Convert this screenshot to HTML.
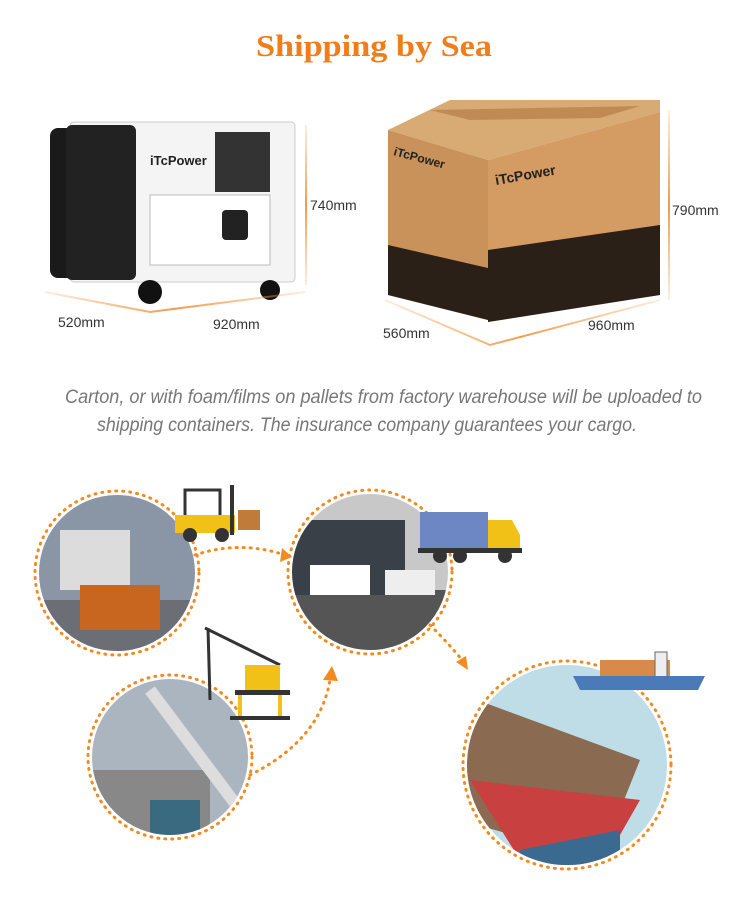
<!DOCTYPE html>
<html><head><meta charset="utf-8"><style>
body{margin:0;background:#fff;width:750px;height:916px;overflow:hidden;font-family:"Liberation Sans",sans-serif}
</style></head><body>
<svg width="750" height="916" viewBox="0 0 750 916" xmlns="http://www.w3.org/2000/svg">
<defs>
<linearGradient id="og" x1="0" x2="1"><stop offset="0" stop-color="#f7a35a" stop-opacity="0.2"/><stop offset="0.5" stop-color="#f39a4a"/><stop offset="1" stop-color="#f7a35a" stop-opacity="0.2"/></linearGradient>
<linearGradient id="ogv" x1="0" x2="0" y1="0" y2="1"><stop offset="0" stop-color="#f7a35a" stop-opacity="0.2"/><stop offset="0.5" stop-color="#f39a4a"/><stop offset="1" stop-color="#f7a35a" stop-opacity="0.2"/></linearGradient>
<clipPath id="c1"><circle cx="117" cy="573" r="78"/></clipPath>
<clipPath id="c2"><circle cx="370" cy="572" r="78"/></clipPath>
<clipPath id="c3"><circle cx="170" cy="757" r="78"/></clipPath>
<clipPath id="c4"><circle cx="567" cy="765" r="100"/></clipPath>
</defs>
<text x="256" y="56" textLength="236" lengthAdjust="spacingAndGlyphs" font-family="Liberation Serif,serif" font-weight="bold" font-size="31" fill="#f07c1a">Shipping by Sea</text>

<!-- generator -->
<rect x="50" y="128" width="50" height="150" rx="8" fill="#1a1a1a"/>
<rect x="70" y="122" width="225" height="160" rx="4" fill="#f4f4f4" stroke="#ccc"/>
<rect x="66" y="125" width="70" height="155" rx="6" fill="#222"/>
<rect x="215" y="132" width="55" height="60" fill="#333"/>
<rect x="150" y="195" width="120" height="70" fill="#fff" stroke="#bbb"/>
<rect x="222" y="210" width="26" height="30" rx="4" fill="#222"/>
<text x="150" y="165" font-size="13" font-weight="bold" fill="#222">iTcPower</text>
<circle cx="150" cy="292" r="12" fill="#111"/><circle cx="270" cy="290" r="10" fill="#111"/>
<rect x="305" y="125" width="2" height="160" fill="url(#ogv)"/>
<path d="M45 292 L150 312 L305 292" stroke="url(#og)" stroke-width="2" fill="none"/>
<text x="310" y="210" font-size="14" fill="#333">740mm</text>
<text x="58" y="327" font-size="14" fill="#333">520mm</text>
<text x="213" y="329" font-size="14" fill="#333">920mm</text>

<!-- carton -->
<polygon points="388,130 450,100 660,100 660,112 488,160" fill="#d8aa74"/>
<polygon points="388,130 488,160 488,320 388,295" fill="#c8925a"/>
<polygon points="488,160 660,112 660,295 488,322" fill="#d49c62"/>
<polygon points="430,110 640,106 600,118 470,120" fill="#c08a55"/>
<polygon points="488,250 660,225 660,295 488,322" fill="#2a2018"/>
<polygon points="388,245 488,268 488,320 388,295" fill="#2a2018"/>
<text x="496" y="185" font-size="14" font-weight="bold" fill="#222" transform="rotate(-10 496 185)">iTcPower</text>
<text x="393" y="155" font-size="12" font-weight="bold" fill="#222" transform="rotate(15 393 155)">iTcPower</text>
<rect x="668" y="110" width="2" height="190" fill="url(#ogv)"/>
<path d="M385 300 L490 345 L660 300" stroke="url(#og)" stroke-width="2" fill="none"/>
<text x="672" y="215" font-size="14" fill="#333">790mm</text>
<text x="383" y="338" font-size="14" fill="#333">560mm</text>
<text x="588" y="330" font-size="14" fill="#333">960mm</text>

<text x="65" y="403" textLength="637" lengthAdjust="spacingAndGlyphs" font-size="19" font-style="italic" fill="#777">Carton, or with foam/films  on pallets from factory warehouse will be uploaded to</text>
<text x="97" y="431" textLength="540" lengthAdjust="spacingAndGlyphs" font-size="19" font-style="italic" fill="#777">shipping containers. The insurance company guarantees  your cargo.</text>

<!-- circles -->
<g clip-path="url(#c1)"><rect x="30" y="490" width="180" height="170" fill="#8a95a5"/><rect x="30" y="600" width="180" height="60" fill="#6b6e75"/><rect x="60" y="530" width="70" height="60" fill="#dcdcdc"/><rect x="80" y="585" width="80" height="45" fill="#c8651f"/></g>
<circle cx="117" cy="573" r="82" fill="none" stroke="#f28a1e" stroke-width="3" stroke-dasharray="1 6" stroke-linecap="round"/>
<g clip-path="url(#c2)"><rect x="280" y="490" width="180" height="170" fill="#c8c8c8"/><rect x="280" y="590" width="180" height="70" fill="#555"/><rect x="285" y="520" width="120" height="75" fill="#3a4048"/><rect x="310" y="565" width="60" height="30" fill="#fff"/><rect x="385" y="570" width="50" height="25" fill="#eee"/></g>
<circle cx="370" cy="572" r="82" fill="none" stroke="#f28a1e" stroke-width="3" stroke-dasharray="1 6" stroke-linecap="round"/>
<g clip-path="url(#c3)"><rect x="85" y="675" width="180" height="165" fill="#aab5c0"/><rect x="90" y="770" width="120" height="70" fill="#888"/><rect x="150" y="800" width="50" height="40" fill="#3a6a80"/><path d="M150 690 L240 810" stroke="#ddd" stroke-width="12"/></g>
<circle cx="170" cy="757" r="82" fill="none" stroke="#f28a1e" stroke-width="3" stroke-dasharray="1 6" stroke-linecap="round"/>
<g clip-path="url(#c4)"><rect x="460" y="660" width="210" height="210" fill="#bfdde6"/><polygon points="450,690 640,760 600,860 460,820" fill="#8a6a50"/><polygon points="470,780 640,800 600,870 520,860" fill="#c94040"/><polygon points="520,850 620,830 620,870 520,870" fill="#3a6a90"/></g>
<circle cx="567" cy="765" r="104" fill="none" stroke="#f28a1e" stroke-width="3" stroke-dasharray="1 6" stroke-linecap="round"/>

<!-- arrows -->
<path d="M195 555 Q240 540 285 555" fill="none" stroke="#f28a1e" stroke-width="3" stroke-dasharray="1 6" stroke-linecap="round"/>
<polygon points="282,548 292,557 280,562" fill="#f28a1e"/>
<path d="M250 775 Q320 740 330 680" fill="none" stroke="#f28a1e" stroke-width="3" stroke-dasharray="1 6" stroke-linecap="round"/>
<polygon points="323,680 332,666 338,681" fill="#f28a1e"/>
<path d="M430 625 Q450 645 462 660" fill="none" stroke="#f28a1e" stroke-width="3" stroke-dasharray="1 6" stroke-linecap="round"/>
<polygon points="456,662 468,670 466,656" fill="#f28a1e"/>

<!-- forklift icon -->
<rect x="185" y="490" width="35" height="30" fill="none" stroke="#333" stroke-width="3"/>
<rect x="175" y="515" width="60" height="18" fill="#f2c118"/>
<rect x="230" y="485" width="4" height="50" fill="#333"/>
<rect x="238" y="510" width="22" height="20" fill="#c07a3a"/>
<circle cx="190" cy="535" r="7" fill="#333"/><circle cx="222" cy="535" r="7" fill="#333"/>
<!-- truck icon -->
<rect x="420" y="512" width="68" height="38" fill="#6d86c4"/>
<polygon points="488,520 512,520 520,535 520,552 488,552" fill="#f2c118"/>
<rect x="418" y="548" width="104" height="5" fill="#333"/>
<circle cx="440" cy="556" r="7" fill="#333"/><circle cx="460" cy="556" r="7" fill="#333"/><circle cx="505" cy="556" r="7" fill="#333"/>
<!-- crane icon -->
<path d="M205 628 L280 665 M208 628 L210 700" stroke="#333" stroke-width="3" fill="none"/>
<rect x="245" y="665" width="35" height="25" fill="#f2c118"/>
<rect x="235" y="690" width="55" height="5" fill="#333"/>
<path d="M240 695 L240 718 M280 695 L280 718" stroke="#f2c118" stroke-width="4"/>
<rect x="230" y="716" width="60" height="4" fill="#333"/>
<!-- ship icon -->
<rect x="600" y="660" width="70" height="18" fill="#d88a4a"/>
<rect x="655" y="652" width="12" height="26" fill="#eee" stroke="#666"/>
<polygon points="573,676 705,676 698,690 580,690" fill="#4a7bb8"/>
</svg>
</body></html>
